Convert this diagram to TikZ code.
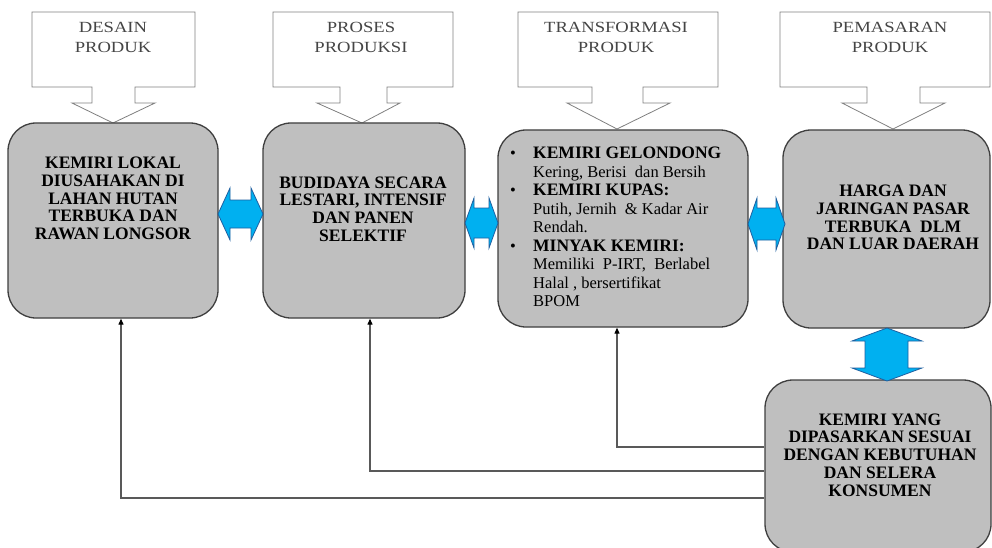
\documentclass[tikz,border=0pt]{standalone}
\usepackage{fontspec}
\setmainfont{Liberation Serif}
\newfontfamily\calfont{Liberation Serif}[FakeStretch=1.2]
\usetikzlibrary{arrows.meta,calc}
\definecolor{boxfill}{HTML}{BFBFBF}
\definecolor{boxline}{HTML}{3F3F3F}
\definecolor{arrfill}{HTML}{00B0F0}
\definecolor{arrline}{HTML}{1F5FA0}
\definecolor{calline}{HTML}{808080}
\definecolor{caltext}{HTML}{454545}
\definecolor{fbline}{HTML}{595959}
\begin{document}
\begin{tikzpicture}[x=1pt,y=-1pt,
  procbox/.style={draw=boxline, fill=boxfill, line width=1.3pt, rounded corners=28pt, inner sep=0pt},
  boxtext/.style={font=\fontsize{17.5}{17.75}\selectfont\bfseries, align=center, inner sep=0pt, text=black},
  callout/.style={draw=calline, fill=white, line width=0.8pt},
  caltxt/.style={font=\calfont\fontsize{15.5}{20}\selectfont, text=caltext, align=center, inner sep=0pt},
  bluearrow/.style={draw=arrline, fill=arrfill, line width=0.8pt, line join=miter},
  feedback/.style={draw=fbline, line width=1.1pt, -{Triangle[length=6pt,width=5pt,color=black]}}
]
\useasboundingbox (0,0) rectangle (992,548);
\clip (0,0) rectangle (992,548);
\fill[white] (0,0) rectangle (992,548);

% callouts
\draw[callout] (32,12) -- (195,12) -- (195,87) -- (135,87) -- (135,103) -- (155,103) -- (113,123) -- (72,103) -- (92,103) -- (92,87) -- (32,87) -- cycle;
\draw[callout] (273,12) -- (453,12) -- (453,87) -- (387,87) -- (387,103) -- (400,103) -- (362,123) -- (317,103) -- (340,103) -- (340,87) -- (273,87) -- cycle;
\draw[callout] (518,12) -- (718,12) -- (718,87) -- (643,87) -- (643,103) -- (670,103) -- (617,129) -- (567,103) -- (592,103) -- (592,87) -- (518,87) -- cycle;
\draw[callout] (780,12) -- (990,12) -- (990,87) -- (920,87) -- (920,103) -- (945,103) -- (893,129) -- (842,103) -- (867,103) -- (867,87) -- (780,87) -- cycle;
\node[caltxt] (t1) at (113,37) {DESAIN\\PRODUK};
\node[caltxt] (t2) at (361,37) {PROSES\\PRODUKSI};
\node[caltxt] (t3) at (616,37) {TRANSFORMASI\\PRODUK};
\node[caltxt] (t4) at (890,37) {PEMASARAN\\PRODUK};

% process boxes
\node[procbox, minimum width=210pt, minimum height=195pt] (A) at (113,220.5) {};
\node[procbox, minimum width=202pt, minimum height=195pt] (B) at (364,220.5) {};
\node[procbox, minimum width=250pt, minimum height=197pt] (C) at (623,228.5) {};
\node[procbox, minimum width=207pt, minimum height=198pt] (D) at (886.5,229) {};
\node[procbox, minimum width=226pt, minimum height=172pt] (E) at (878,466) {};

\node[boxtext] (At) at (113,198.5) {KEMIRI LOKAL\\DIUSAHAKAN DI\\LAHAN HUTAN\\TERBUKA DAN\\RAWAN LONGSOR};
\node[boxtext] (Bt) at (363,209) {BUDIDAYA SECARA\\LESTARI, INTENSIF\\DAN PANEN\\SELEKTIF};
\node[anchor=west, align=left, inner sep=0pt, font=\fontsize{16.5}{18.5}\selectfont] (Ct) at (510,227) {%
\makebox[23pt][l]{\textbullet}{\bfseries\fontsize{17.5}{18.5}\selectfont KEMIRI GELONDONG}\\
\hspace*{23pt}Kering, Berisi\ \ dan Bersih\\
\makebox[23pt][l]{\textbullet}{\bfseries\fontsize{17.5}{18.5}\selectfont KEMIRI KUPAS:}\\
\hspace*{23pt}Putih, Jernih\ \ \& Kadar Air\\
\hspace*{23pt}Rendah.\\
\makebox[23pt][l]{\textbullet}{\bfseries\fontsize{17.5}{18.5}\selectfont MINYAK KEMIRI:}\\
\hspace*{23pt}Memiliki\ \ P-IRT,\ \ Berlabel\\
\hspace*{23pt}Halal , bersertifikat\\
\hspace*{23pt}BPOM};
\node[boxtext] (Dt) at (893,217.5) {HARGA DAN\\JARINGAN PASAR\\TERBUKA\ \ DLM\\DAN LUAR DAERAH};
\node[boxtext] (Et) at (880,455) {KEMIRI YANG\\DIPASARKAN SESUAI\\DENGAN KEBUTUHAN\\DAN SELERA\\KONSUMEN};

% blue double arrows
\draw[bluearrow] (218,214) -- (230,188) -- (230,200) -- (251,200) -- (251,188) -- (263,214) -- (251,240) -- (251,228) -- (230,228) -- (230,240) -- cycle;
\draw[bluearrow] (465,223) -- (474,198) -- (474,208) -- (489,208) -- (489,198) -- (498,223) -- (489,248) -- (489,238) -- (474,238) -- (474,248) -- cycle;
\draw[bluearrow] (748,224) -- (757,198) -- (757,208) -- (776,208) -- (776,198) -- (785,224) -- (776,250) -- (776,240) -- (757,240) -- (757,250) -- cycle;
\draw[bluearrow] (887,328) -- (922,341) -- (908,341) -- (908,368) -- (922,368) -- (887,381) -- (852,368) -- (865,368) -- (865,341) -- (852,341) -- cycle;

% feedback connectors
\coordinate (f1) at (0,447);
\coordinate (f2) at (0,471);
\coordinate (f3) at (0,498);
\draw[feedback] (E.west |- f1) -| ([xshift=-6pt]C.south);
\draw[feedback] (E.west |- f2) -| ([xshift=6pt]B.south);
\draw[feedback] (E.west |- f3) -| ([xshift=8pt]A.south);
\end{tikzpicture}
\end{document}
